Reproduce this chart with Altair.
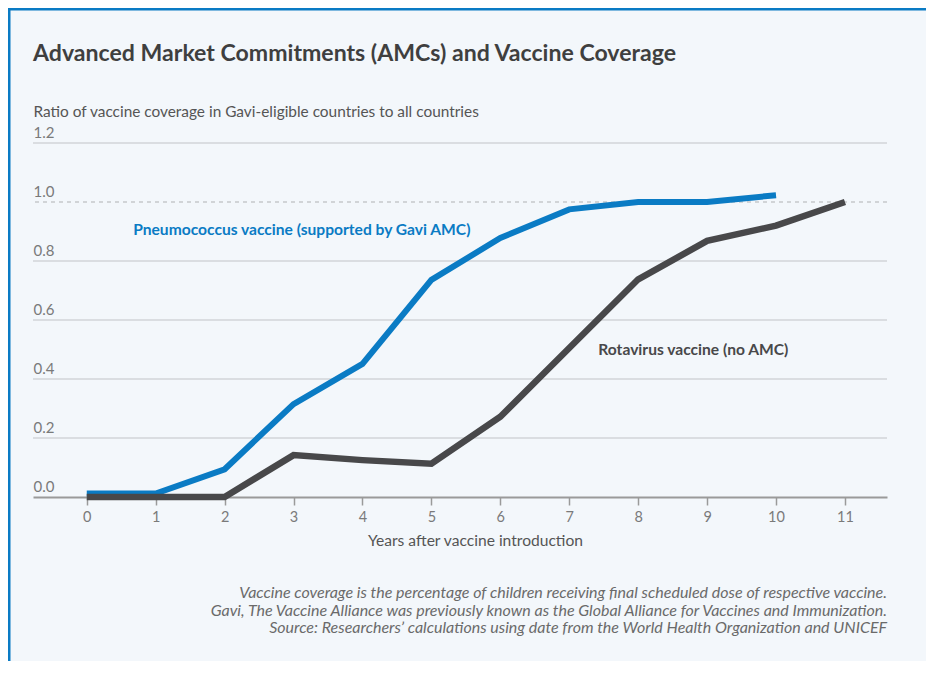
import altair as alt
import pandas as pd

# ---- data ----
years = list(range(12))
pneumococcus = [0.012, 0.012, 0.094, 0.315, 0.451, 0.736, 0.878, 0.975, 1.0, 1.0, 1.023, None]
rotavirus = [0.0, 0.0, 0.0, 0.142, 0.125, 0.113, 0.272, 0.505, 0.738, 0.868, 0.92, 1.0]
y_ticks = [0.0, 0.2, 0.4, 0.6, 0.8, 1.0, 1.2]
grid_solid = [0.2, 0.4, 0.6, 0.8, 1.2]
grid_dashed = [1.0]
series_labels = ["Pneumococcus vaccine (supported by Gavi AMC)", "Rotavirus vaccine (no AMC)"]
series_label_x = [3.12, 8.8]
series_label_y = [0.905, 0.498]
series_label_colors = ["#0a7bc4", "#48484a"]
footnotes = [
    "Vaccine coverage is the percentage of children receiving final scheduled dose of respective vaccine.",
    "Gavi, The Vaccine Alliance was previously known as the Global Alliance for Vaccines and Immunization.",
    "Source: Researchers\u2019 calculations using date from the World Health Organization and UNICEF",
]
title_text = "Advanced Market Commitments (AMCs) and Vaccine Coverage"
y_title = "Ratio of vaccine coverage in Gavi-eligible countries to all countries"
x_title = "Years after vaccine introduction"

BLUE = "#0a7bc4"
DARK = "#48484a"
FONT = "Lato"

W, H = 854, 354

df_p = pd.DataFrame({"year": years, "value": pneumococcus}).dropna()
df_r = pd.DataFrame({"year": years, "value": rotavirus})
df_gs = pd.DataFrame({"y": grid_solid})
df_gd = pd.DataFrame({"y": grid_dashed})
df_lab = pd.DataFrame({"label": series_labels, "x": series_label_x, "y": series_label_y,
                       "c": series_label_colors})
df_note = pd.DataFrame({"note": ["\n".join(footnotes)]})
df_title = pd.DataFrame({"t": [title_text]})
df_one = pd.DataFrame({"k": [0]})

xscale = alt.Scale(domain=[-0.78, 11.61], nice=False, zero=False)
yscale = alt.Scale(domain=[0, 1.2], nice=False)

x_axis = alt.Axis(values=years, format="d", tickSize=8, tickColor="#9a9a9a", tickWidth=1.5,
                  domainColor="#9a9a9a", domainWidth=2, labelColor="#7a7a7a", labelFontSize=14.5,
                  labelPadding=5, labelFont=FONT, title=x_title, titleFontSize=15.6,
                  titleFontWeight="normal", titleColor="#555555", titleFont=FONT, titlePadding=10,
                  titleX=442, grid=False)
y_axis = alt.Axis(values=y_ticks, format=".1f", labelAlign="left", labelPadding=0, tickSize=0,
                  ticks=False, domain=False, grid=False, labelBaseline="alphabetic", labelOffset=-6,
                  labelColor="#7a7a7a", labelFontSize=15, labelFont=FONT,
                  title=y_title, titleAngle=0, titleAlign="left", titleBaseline="alphabetic",
                  titleX=0, titleY=-27, titleFontSize=15.4, titleFontWeight="normal",
                  titleColor="#555555", titleFont=FONT)

grid_s = alt.Chart(df_gs).mark_rule(color="#d2d5d8", strokeWidth=1.5).encode(
    y=alt.Y("y:Q", scale=yscale, axis=y_axis))
grid_d = alt.Chart(df_gd).mark_rule(color="#c6c9cc", strokeWidth=1.5, strokeDash=[4, 4]).encode(
    y=alt.Y("y:Q", scale=yscale))

line_p = alt.Chart(df_p).mark_line(color=BLUE, strokeWidth=6, strokeCap="butt", strokeJoin="miter").encode(
    x=alt.X("year:Q", scale=xscale, axis=x_axis),
    y=alt.Y("value:Q", scale=yscale))
line_r = alt.Chart(df_r).mark_line(color=DARK, strokeWidth=6.5, strokeCap="butt", strokeJoin="miter").encode(
    x=alt.X("year:Q", scale=xscale),
    y=alt.Y("value:Q", scale=yscale))

labels = alt.Chart(df_lab).mark_text(font=FONT, fontSize=15.6, fontWeight="bold", align="center",
                                      baseline="middle").encode(
    x=alt.X("x:Q", scale=xscale), y=alt.Y("y:Q", scale=yscale), text="label:N",
    color=alt.Color("c:N", scale=None))

notes = alt.Chart(df_note).mark_text(font=FONT, fontSize=16, fontStyle="italic", align="right",
                                     baseline="middle", lineBreak="\n", lineHeight=17.7,
                                     color="#6a6a6a").encode(
    x=alt.value(W), y=alt.value(450), text="note:N")

title = alt.Chart(df_title).mark_text(font=FONT, fontSize=23.1, fontWeight="bold", align="left",
                                      baseline="middle", color="#3f3f3f").encode(
    x=alt.value(0), y=alt.value(-89), text="t:N")

border_left = alt.Chart(df_one).mark_rule(color=BLUE, strokeWidth=3).encode(
    x=alt.value(-24), y=alt.value(-136), y2=alt.value(H + 175))
border_top = alt.Chart(df_one).mark_rule(color=BLUE, strokeWidth=3).encode(
    x=alt.value(-26), x2=alt.value(W + 40), y=alt.value(-134))

chart = alt.layer(grid_s, grid_d, line_p, line_r, labels, notes, title,
                  border_left, border_top).properties(
    width=W, height=H,
    background="#f3f7fb",
    padding={"left": 25, "top": 135, "right": 39, "bottom": 164},
    autosize=alt.AutoSizeParams(type="none"),
).configure_view(stroke=None)

chart.save("out.html", embed_options={"renderer": "svg", "actions": False})
